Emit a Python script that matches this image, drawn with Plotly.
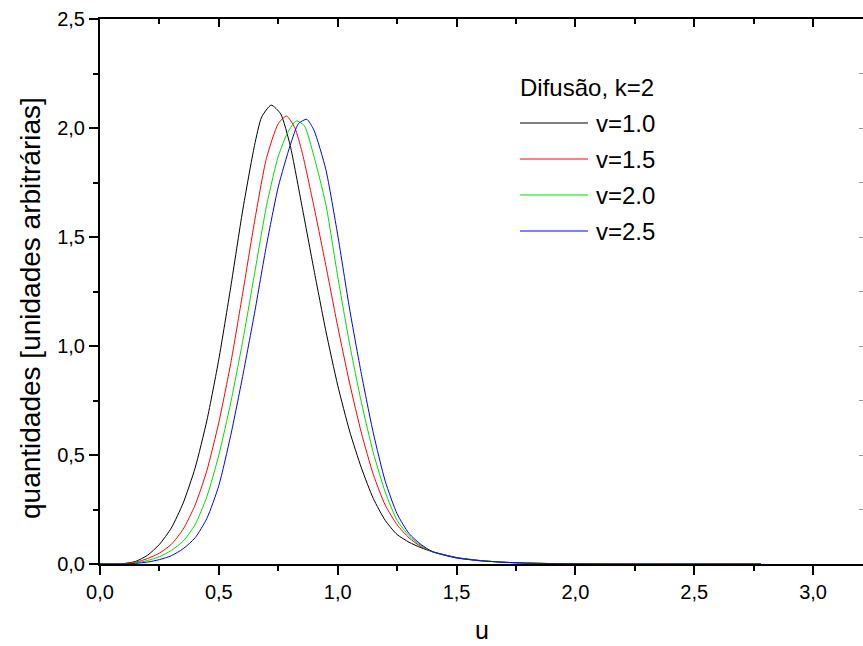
import plotly.graph_objects as go

# ---- data ----
u_v10 = [0.0, 0.05, 0.1, 0.15, 0.2, 0.25, 0.3, 0.35, 0.4, 0.45, 0.5, 0.55, 0.6, 0.65, 0.68, 0.72, 0.76,
         0.8, 0.85, 0.9, 0.95, 1.0, 1.05, 1.1, 1.15, 1.2, 1.25, 1.3, 1.35, 1.4, 1.5, 1.6, 1.7, 1.8,
         1.9, 2.0, 2.2, 2.5, 2.78]
y_v10 = [0.0, 0.0, 0.002, 0.012, 0.04, 0.09, 0.165, 0.28, 0.44, 0.66, 0.94, 1.27, 1.62, 1.92, 2.05, 2.105, 2.065,
         1.92, 1.64, 1.35, 1.07, 0.82, 0.61, 0.44, 0.30, 0.2, 0.135, 0.1, 0.075, 0.056, 0.03, 0.016, 0.008, 0.004,
         0.002, 0.001, 0.0, 0.0, 0.0]

u_v15 = [0.0, 0.05, 0.1, 0.15, 0.2, 0.25, 0.3, 0.35, 0.4, 0.45, 0.5, 0.55, 0.6, 0.65, 0.7, 0.75, 0.785,
         0.82, 0.85, 0.9, 0.95, 1.0, 1.05, 1.1, 1.15, 1.2, 1.25, 1.3, 1.35, 1.4, 1.5, 1.6, 1.7, 1.8,
         1.9, 2.0, 2.2, 2.5, 2.78]
y_v15 = [0.0, 0.0, 0.001, 0.008, 0.025, 0.05, 0.09, 0.16, 0.27, 0.43, 0.65, 0.92, 1.24, 1.57, 1.86, 2.02, 2.055,
         2.0, 1.89, 1.64, 1.37, 1.09, 0.83, 0.60, 0.41, 0.27, 0.18, 0.12, 0.08, 0.056, 0.028, 0.015, 0.008, 0.004,
         0.002, 0.001, 0.0, 0.0, 0.0]

u_v20 = [0.0, 0.05, 0.1, 0.15, 0.2, 0.25, 0.3, 0.35, 0.4, 0.45, 0.5, 0.55, 0.6, 0.65, 0.7, 0.75, 0.79,
         0.826, 0.86, 0.9, 0.95, 1.0, 1.05, 1.1, 1.15, 1.2, 1.25, 1.3, 1.35, 1.4, 1.5, 1.6, 1.7, 1.8,
         1.9, 2.0, 2.2, 2.5, 2.78]
y_v20 = [0.0, 0.0, 0.001, 0.005, 0.016, 0.034, 0.062, 0.105, 0.18, 0.31, 0.50, 0.74, 1.02, 1.33, 1.64, 1.87, 1.98,
         2.033, 2.01, 1.87, 1.65, 1.32, 1.01, 0.74, 0.51, 0.33, 0.20, 0.13, 0.085, 0.056, 0.028, 0.015, 0.008, 0.004,
         0.002, 0.001, 0.0, 0.0, 0.0]

u_v25 = [0.0, 0.05, 0.1, 0.15, 0.2, 0.25, 0.3, 0.35, 0.4, 0.45, 0.5, 0.55, 0.6, 0.65, 0.7, 0.75, 0.8,
         0.835, 0.87, 0.9, 0.95, 1.0, 1.05, 1.1, 1.15, 1.2, 1.25, 1.3, 1.35, 1.4, 1.5, 1.6, 1.7, 1.8,
         1.9, 2.0, 2.2, 2.5, 2.78]
y_v25 = [0.0, 0.0, 0.0005, 0.003, 0.009, 0.02, 0.038, 0.07, 0.12, 0.21, 0.36, 0.59, 0.86, 1.15, 1.46, 1.73, 1.92,
         2.02, 2.04, 1.99, 1.81, 1.51, 1.17, 0.87, 0.60, 0.38, 0.23, 0.14, 0.09, 0.056, 0.028, 0.015, 0.008, 0.004,
         0.002, 0.001, 0.0, 0.0, 0.0]

series_names = ["v=1.0", "v=1.5", "v=2.0", "v=2.5"]
series_colors = ["#000000", "#FF0000", "#00DD00", "#0000FF"]
legend_title = "Difusão, k=2"
x_title = "u"
y_title = "quantidades [unidades arbitrárias]"

# ---- layout geometry ----
W, H = 863, 646
L, R, T, B = 100, 0, 19, 82
PW, PH = W - L - R, H - T - B


def px(x):
    return (x - L) / PW


def py(y):
    return (H - B - y) / PH


FONT = "Liberation Sans, Arial, sans-serif"

fig = go.Figure()
for uu, yy, name, col in zip([u_v10, u_v15, u_v20, u_v25], [y_v10, y_v15, y_v20, y_v25],
                             series_names, series_colors):
    fig.add_trace(go.Scatter(x=uu, y=yy, mode="lines", name=name,
                             line=dict(color=col, width=1, shape="spline", smoothing=0.6),
                             showlegend=False))

# invisible trace to activate the mirror axes
fig.add_trace(go.Scatter(x=[None], y=[None], xaxis="x2", yaxis="y2", showlegend=False))

axis_common = dict(showline=True, linecolor="black", linewidth=2, showgrid=False, zeroline=False,
                   ticks="outside", tickcolor="black", tickwidth=2, ticklen=9,
                   tickfont=dict(family=FONT, size=20, color="black"),
                   layer="below traces")

fig.update_layout(
    width=W, height=H,
    margin=dict(l=L, r=R, t=T, b=B, pad=0),
    paper_bgcolor="white", plot_bgcolor="white",
    separators=",.",
    font=dict(family=FONT, color="black"),
    xaxis=dict(range=[0, 3.21], dtick=0.5, tick0=0, tickformat=".1f",
               minor=dict(dtick=0.25, ticks="outside", ticklen=5, tickwidth=2, tickcolor="black"),
               **axis_common),
    yaxis=dict(range=[0, 2.5], dtick=0.5, tick0=0, tickformat=".1f",
               minor=dict(dtick=0.25, ticks="outside", ticklen=5, tickwidth=2, tickcolor="black"),
               **axis_common),
    xaxis2=dict(overlaying="x", side="top", matches="x", range=[0, 3.21], dtick=0.5, tick0=0,
                showticklabels=False, showline=True, linecolor="black", linewidth=2,
                ticks="inside", ticklen=8, tickwidth=2, tickcolor="black", showgrid=False, zeroline=False,
                minor=dict(dtick=0.25, ticks="inside", ticklen=5, tickwidth=2, tickcolor="black")),
    yaxis2=dict(overlaying="y", side="right", range=[0, 2.5], dtick=0.25, tick0=0,
                showticklabels=False, showline=False, ticks="inside", ticklen=4, tickwidth=1,
                tickcolor="#999999", showgrid=False, zeroline=False),
)

annotations = [
    dict(text=x_title, x=0.5, y=py(630), xref="paper", yref="paper", showarrow=False,
         xanchor="center", yanchor="middle", font=dict(family=FONT, size=25, color="black")),
    dict(text=y_title, x=px(30), y=py(308), xref="paper", yref="paper", showarrow=False,
         textangle=-90, xanchor="center", yanchor="middle", font=dict(family=FONT, size=28, color="black")),
    dict(text=legend_title, x=px(518), y=py(88), xref="paper", yref="paper", showarrow=False,
         xanchor="left", yanchor="middle", font=dict(family=FONT, size=24, color="black")),
]
shapes = []
for i, (name, col) in enumerate(zip(series_names, series_colors)):
    yy = py(123 + 36 * i)
    shapes.append(dict(type="line", xref="paper", yref="paper", x0=px(520), x1=px(588), y0=yy, y1=yy,
                       line=dict(color=col, width=1)))
    annotations.append(dict(text=name, x=px(594), y=yy, xref="paper", yref="paper", showarrow=False,
                            xanchor="left", yanchor="middle", font=dict(family=FONT, size=24, color="black")))

fig.update_layout(annotations=annotations, shapes=shapes)

fig.write_html("out.html", config={"displayModeBar": False},
               post_script="document.body.style.margin='0';document.body.style.overflow='hidden';")
